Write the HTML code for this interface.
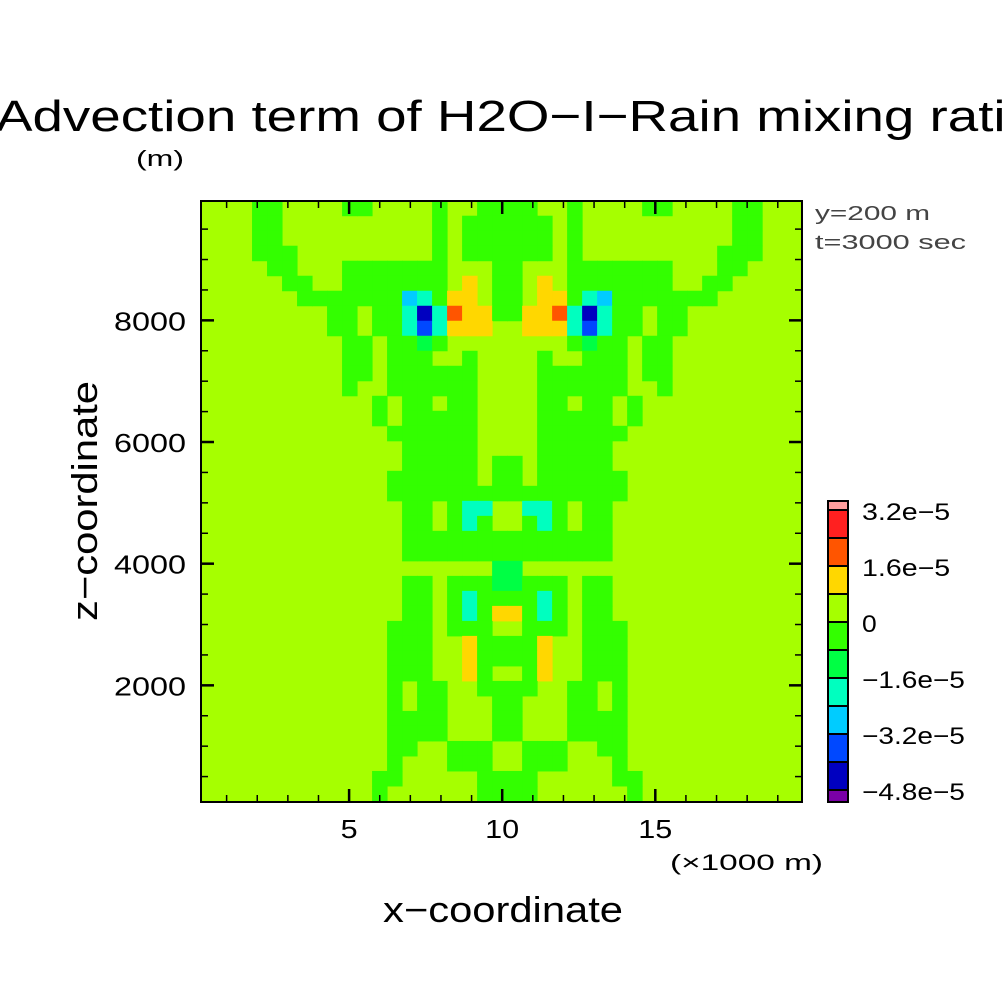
<!DOCTYPE html>
<html><head><meta charset="utf-8"><style>
html,body{margin:0;padding:0;background:#fff;}
svg{display:block;font-family:"Liberation Sans",sans-serif;}
</style></head><body>
<svg id="chart" width="1004" height="1004" viewBox="0 0 1004 1004" xmlns="http://www.w3.org/2000/svg">
<defs><clipPath id="plotclip"><rect x="201" y="201" width="601" height="601"/></clipPath></defs>
<text x="-4" y="131" font-size="44" textLength="1040" lengthAdjust="spacingAndGlyphs" fill="#000">Advection term of H2O−I−Rain mixing ratio</text>
<text x="136" y="166" font-size="22" textLength="48" lengthAdjust="spacingAndGlyphs">(m)</text>
<g id="field" clip-path="url(#plotclip)"><rect x="201" y="201" width="601" height="601" fill="#a6ff00"/></g>
<g id="axes"></g>
<text x="815" y="220" font-size="20" fill="#444" textLength="115" lengthAdjust="spacingAndGlyphs">y=200 m</text>
<text x="815" y="249" font-size="20" fill="#444" textLength="151" lengthAdjust="spacingAndGlyphs">t=3000 sec</text>
<text x="670" y="870" font-size="22" textLength="153" lengthAdjust="spacingAndGlyphs">(×1000 m)</text>
<text x="383" y="922" font-size="36" textLength="240" lengthAdjust="spacingAndGlyphs">x−coordinate</text>
<text transform="translate(97,621) rotate(-90)" x="0" y="0" font-size="36" textLength="240" lengthAdjust="spacingAndGlyphs">z−coordinate</text>
<g id="colorbar"></g>
</svg>
<script>
// level boundaries (x1e-5) and colours
const levelBounds = [-5.6,-4.8,-4.0,-3.2,-2.4,-1.6,-0.8,0,0.8,1.6,2.4,3.2,4.0];
const levelColors = ["#7a00a6","#0000c0","#0048ff","#00ccff","#00ffbf","#00ff44","#33ff00","#a6ff00","#ffd700","#ff5500","#ff2020","#ff9e9e"];
const barLabels = ["3.2e−5","1.6e−5","0","−1.6e−5","−3.2e−5","−4.8e−5"];
const barLabelValues = [3.2,1.6,0,-1.6,-3.2,-4.8];
const xTicks = [5,10,15];
const yTicks = [2000,4000,6000,8000];
// cell code -> representative value (x1e-5)
const codeValues = {".":0.4,"g":-0.4,"h":-1.2,"t":-2.0,"c":-2.8,"b":-3.6,"d":-4.4,"y":1.2,"o":2.0};
// left half of symmetric field, top row first (20 cells each)
const fieldRows = [
"...gg....gg....g..gg",
"...gg..........g.ggg",
"...gg..........g.ggg",
"...ggg.........g.ggg",
"....gg...ggggggg...g",
".....gg..ggggggg.y.g",
"......gggggggctgyy.g",
"........gg.ggtdtoyyg",
"........gg.ggtbtyyy.",
".........gg.gghg....",
".........gg.ggg..g..",
".........gg.gggggg..",
".........g..gggggg..",
"...........g.gg.gg..",
"...........g.ggggg..",
"............gggggg..",
".............ggggg..",
".............ggggg.g",
"............gggggg.g",
"............gggggggg",
".............gg.gtt.",
".............gg.gtg.",
".............ggggggg",
".............ggggggg",
"...................h",
".............gg.gggh",
".............gg.gtgg",
".............gg.gtgy",
"............ggg.ggg.",
"............ggg..ygg",
"............ggg..ygg",
"............ggg..yg.",
"............g.gg..gg",
"............g.gg...g",
"............gggg...g",
"............gggg...g",
"............gg..ggg.",
"............g...ggg.",
"...........gg.....gg",
"...........g......gg"
];
const xPx = km => 196 + km*30.62;
const zPx = m => 807 - m*0.06083;
const NS="http://www.w3.org/2000/svg";
function colorFor(v){for(let i=0;i<levelColors.length;i++){if(v<levelBounds[i+1])return levelColors[i];}return levelColors[levelColors.length-1];}
const field=document.getElementById('field');
const cellKm=0.49, cellM=246.7, x0Km=0.36, zTop=9967;
fieldRows.forEach((row,r)=>{
  const full=row+row.split('').reverse().join('');
  for(let c=0;c<full.length;c++){
    const v=codeValues[full[c]];
    if(full[c]===".")continue;
    const xa=xPx(x0Km+c*cellKm), xb=xPx(x0Km+(c+1)*cellKm);
    const ya=zPx(zTop-r*cellM), yb=zPx(zTop-(r+1)*cellM);
    const el=document.createElementNS(NS,'rect');
    
    
    el.setAttribute('x',xa);el.setAttribute('y',ya);
    el.setAttribute('width',xb-xa+0.5);el.setAttribute('height',yb-ya+0.5);
    el.setAttribute('fill',colorFor(v));
    field.appendChild(el);
  }
});
const axes=document.getElementById('axes');
function line(x1,y1,x2,y2,w,name){const l=document.createElementNS(NS,'line');


l.setAttribute('x1',x1);l.setAttribute('y1',y1);l.setAttribute('x2',x2);l.setAttribute('y2',y2);l.setAttribute('stroke','#000');l.setAttribute('stroke-width',w);axes.appendChild(l);}
function text(x,y,s,size,anchor,name,parent,len){const t=document.createElementNS(NS,'text');


t.setAttribute('x',x);t.setAttribute('y',y);t.setAttribute('font-size',size);t.setAttribute('text-anchor',anchor);
if(len){t.setAttribute('textLength',len);t.setAttribute('lengthAdjust','spacingAndGlyphs');}
t.textContent=s;(parent||axes).appendChild(t);}
const fr=document.createElementNS(NS,'rect');


fr.setAttribute('x',201);fr.setAttribute('y',201);fr.setAttribute('width',601);fr.setAttribute('height',601);fr.setAttribute('fill','none');fr.setAttribute('stroke','#000');fr.setAttribute('stroke-width',2);axes.appendChild(fr);
for(let k=1;k<=19;k++){const x=xPx(k);const L=(k%5===0)?13:7;const w=(k%5===0)?2.5:1.5;
line(x,802,x,802-L,w,'x-tick');line(x,201,x,201+L,w,'x-tick-top');}
for(let m=500;m<=9500;m+=500){const y=zPx(m);const L=(m%2000===0)?13:7;const w=(m%2000===0)?2.5:1.5;
line(201,y,201+L,y,w,'y-tick');line(802,y,802-L,y,w,'y-tick-right');}
xTicks.forEach(k=>text(xPx(k),838,String(k),26,'middle','x-tick-label',null,String(k).length*17));
yTicks.forEach(m=>text(186,zPx(m)+10,String(m),26,'end','y-tick-label',null,72));
// colorbar
const cb=document.getElementById('colorbar');
const cbTop=501, cbStep=28, cbX=828, cbW=20;
const vToCb = v => 622 - (v/0.8)*cbStep;
for(let i=0;i<levelColors.length;i++){
  let ya=vToCb(levelBounds[i+1]), yb=vToCb(levelBounds[i]);
  ya=Math.max(ya,cbTop); yb=Math.min(yb,802);
  const r=document.createElementNS(NS,'rect');
  
  
  r.setAttribute('x',cbX);r.setAttribute('y',ya);r.setAttribute('width',cbW);r.setAttribute('height',yb-ya);
  r.setAttribute('fill',levelColors[i]);r.setAttribute('stroke','#000');r.setAttribute('stroke-width',2);cb.appendChild(r);
}
barLabels.forEach((s,i)=>text(862,vToCb(barLabelValues[i])+10,s,24,'start','colorbar-label',cb,s.length*14.7));
</script>
</body></html>
